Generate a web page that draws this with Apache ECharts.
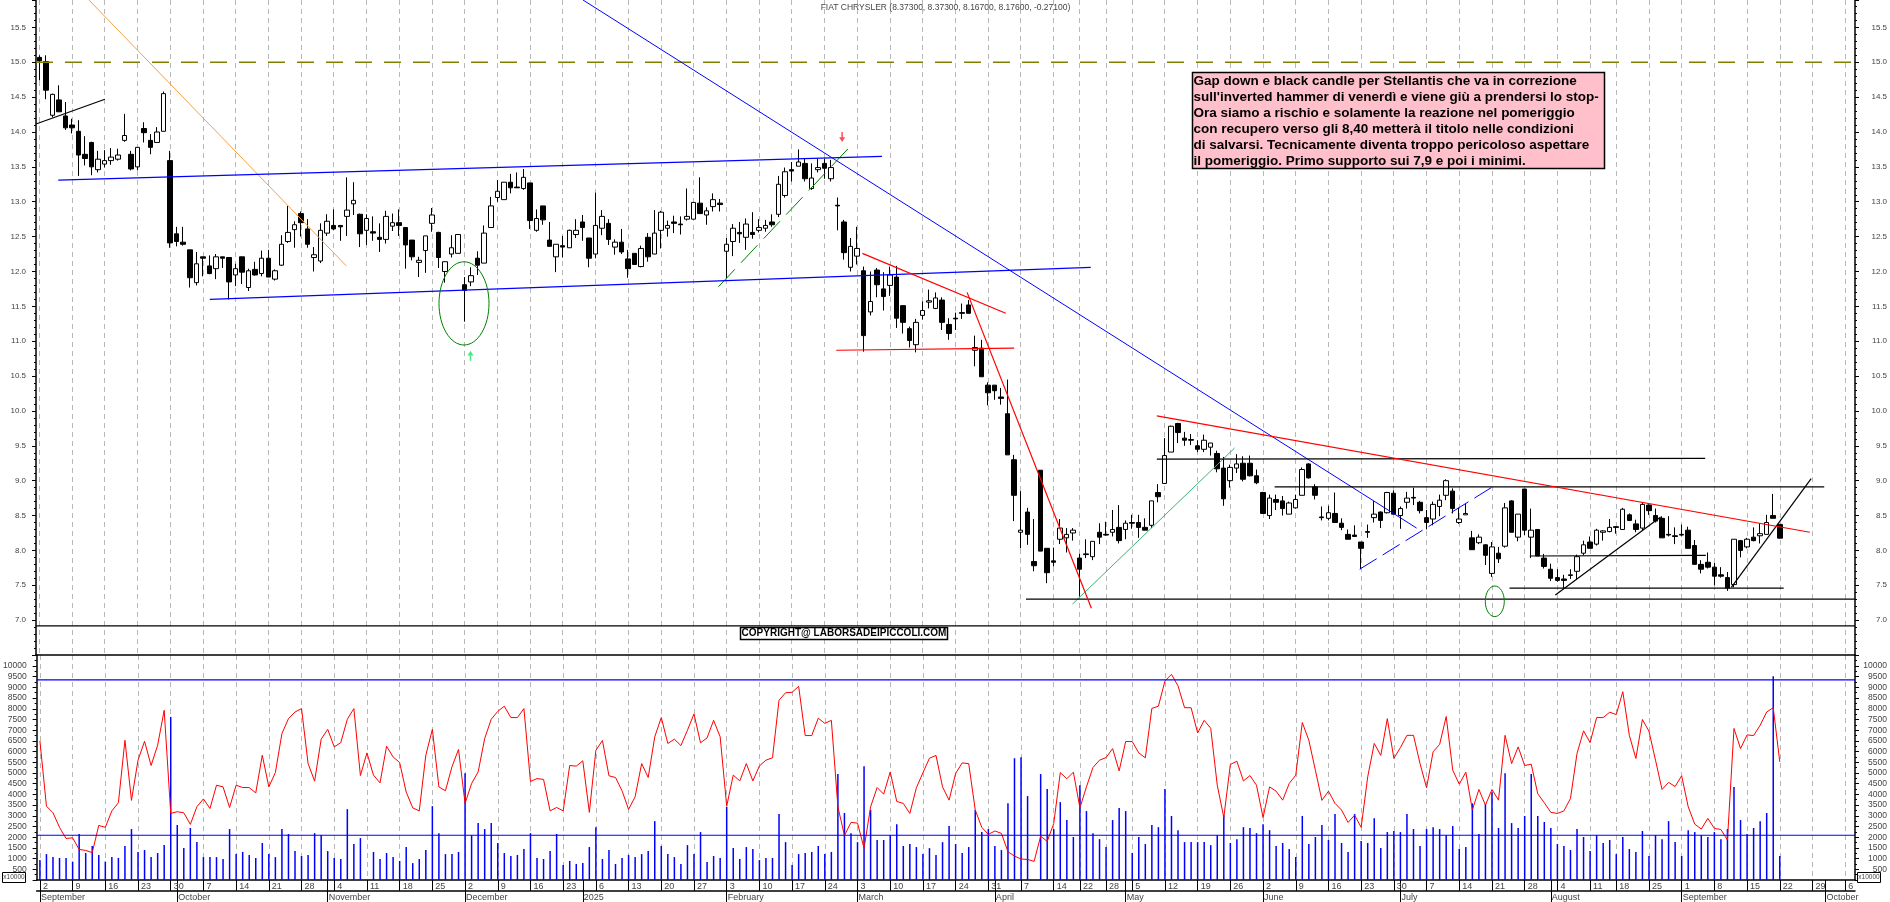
<!DOCTYPE html>
<html>
<head>
<meta charset="utf-8">
<title>FIAT CHRYSLER</title>
<script src="https://cdn.jsdelivr.net/npm/echarts@6/dist/echarts.min.js"></script>
<style>
  html, body { margin: 0; padding: 0; background: #fff; }
  #chart { width: 1890px; height: 902px; }
</style>
</head>
<body>
<div id="chart"></div>
<script>
// candles, one per trading session from 2 September 2024
const opens = [
  15.07,15.01,14.24,14.46,14.23,14.10,14.01,13.68,13.85,13.46,
  13.54,13.59,13.61,13.88,13.68,13.50,14.05,13.88,13.85,14.01,
  13.59,12.54,12.42,12.31,11.84,12.21,12.08,12.04,12.21,12.20,
  11.95,12.21,11.77,12.03,11.97,12.19,11.89,12.09,12.43,12.60,
  12.83,12.61,12.20,12.15,12.55,12.66,12.66,12.79,12.97,12.82,
  12.59,12.57,12.49,12.46,12.65,12.70,12.63,12.45,12.13,12.30,
  12.69,12.56,12.00,12.25,12.26,11.81,11.85,12.19,12.12,12.63,
  13.06,13.03,13.28,13.21,13.19,13.27,12.59,12.94,12.45,12.21,
  12.37,12.34,12.53,12.71,12.48,12.25,12.62,12.69,12.35,12.42,
  12.18,12.26,12.07,12.49,12.25,12.59,12.62,12.71,12.68,12.75,
  12.75,12.98,12.81,12.93,12.98,12.29,12.43,12.56,12.49,12.56,
  12.59,12.62,12.71,12.82,13.09,13.46,13.51,13.55,13.19,13.46,
  13.55,13.33,12.95,12.71,12.06,12.22,12.01,11.42,12.02,11.75,
  11.80,11.92,11.51,11.18,10.95,11.37,11.56,11.47,11.59,11.24,
  11.33,11.41,11.52,10.87,10.90,10.37,10.37,10.20,9.96,9.30,
  8.26,8.55,7.84,9.15,8.03,7.85,8.16,8.18,8.25,7.89,
  7.95,7.91,8.26,8.23,8.26,8.33,8.30,8.40,8.40,8.33,
  8.36,8.83,8.96,9.41,9.82,9.61,9.59,9.50,9.45,9.48,
  9.39,9.18,9.00,9.18,9.25,9.25,9.07,8.83,8.50,8.73,
  8.71,8.52,8.61,8.79,9.24,8.91,8.48,8.46,8.53,8.39,
  8.23,8.22,8.12,8.27,8.47,8.55,8.54,8.82,8.50,8.69,
  8.76,8.69,8.47,8.45,8.63,8.79,8.85,8.40,8.51,8.18,
  8.11,8.08,7.67,7.96,8.06,8.71,8.19,8.88,8.19,8.30,
  7.89,7.73,7.61,7.59,7.64,7.70,7.96,8.12,8.09,8.26,
  8.27,8.34,8.30,8.51,8.38,8.32,8.65,8.50,8.46,8.23,
  8.21,8.23,8.29,8.07,7.80,7.83,7.76,7.65,7.61,7.51,
  8.14,8.05,8.19,8.21,8.23,8.50,8.373
];
const closes = [
  15.02,14.60,14.54,14.29,14.06,14.06,13.67,13.62,13.50,13.61,
  13.59,13.64,13.67,13.95,13.47,13.78,13.99,13.78,14.00,14.55,
  12.41,12.43,12.39,11.91,12.11,12.19,11.97,12.21,12.19,11.85,
  12.04,11.99,12.01,11.95,12.19,11.92,12.01,12.39,12.56,12.67,
  12.70,12.39,12.24,12.59,12.72,12.61,12.64,12.88,13.02,12.54,
  12.76,12.55,12.46,12.79,12.70,12.66,12.38,12.21,12.16,12.51,
  12.81,12.20,12.14,12.34,12.53,11.73,11.94,12.09,12.55,12.94,
  13.15,13.28,13.20,13.20,13.35,12.73,12.76,12.74,12.36,12.39,
  12.35,12.59,12.59,12.63,12.19,12.66,12.79,12.46,12.42,12.28,
  12.04,12.10,12.33,12.21,12.55,12.85,12.66,12.69,12.67,12.79,
  12.99,12.83,12.87,13.03,12.96,12.39,12.62,12.54,12.68,12.53,
  12.63,12.66,12.67,13.25,13.43,13.44,13.57,13.33,13.34,13.49,
  13.48,13.49,12.94,12.27,12.36,12.33,11.08,11.57,11.81,11.64,
  11.95,11.33,11.27,11.01,11.27,11.44,11.58,11.62,11.27,11.11,
  11.32,11.40,11.40,10.91,10.49,10.26,10.29,10.18,9.37,8.79,
  8.29,8.23,7.78,7.99,7.68,7.83,8.32,8.23,8.29,7.73,
  7.94,8.13,8.19,8.22,8.30,8.14,8.39,8.39,8.33,8.29,
  8.71,8.77,9.36,9.78,9.69,9.58,9.58,9.45,9.58,9.54,
  9.17,8.74,9.19,9.24,9.02,9.07,8.97,8.53,8.75,8.69,
  8.60,8.68,8.73,9.16,9.04,8.79,8.47,8.54,8.40,8.33,
  8.16,8.20,8.03,8.26,8.52,8.43,8.83,8.52,8.60,8.75,
  8.75,8.57,8.40,8.66,8.72,9.00,8.60,8.45,8.53,8.01,
  8.19,7.93,8.05,7.88,8.61,8.26,8.52,8.29,8.29,7.92,
  7.77,7.60,7.57,7.57,7.65,7.91,8.08,8.03,8.29,8.28,
  8.33,8.33,8.59,8.43,8.30,8.66,8.57,8.42,8.18,8.22,
  8.20,8.22,8.03,7.80,7.73,7.76,7.63,7.63,7.46,8.16,
  8.00,8.16,8.14,8.24,8.40,8.46,8.176
];
const lows = [
  14.74,14.47,14.21,14.29,14.03,13.98,13.37,13.52,13.38,13.42,
  13.49,13.53,13.59,13.86,13.45,13.45,13.85,13.68,13.85,14.01,
  12.34,12.36,12.37,11.77,11.80,11.93,11.96,11.89,12.05,11.60,
  11.79,11.82,11.72,11.94,11.93,11.92,11.87,12.08,12.41,12.34,
  12.50,12.34,12.00,12.12,12.51,12.59,12.44,12.51,12.81,12.35,
  12.38,12.44,12.28,12.40,12.58,12.51,12.04,12.16,11.92,11.98,
  12.57,12.05,11.84,12.20,12.26,11.28,11.79,11.95,12.12,12.63,
  13.00,13.03,13.12,13.20,13.17,12.61,12.57,12.67,12.36,11.99,
  12.20,12.34,12.48,12.44,12.06,12.19,12.52,12.38,12.24,12.25,
  11.91,12.10,12.06,12.14,12.25,12.33,12.50,12.55,12.53,12.73,
  12.75,12.83,12.67,12.86,12.86,11.90,12.22,12.41,12.31,12.47,
  12.56,12.57,12.64,12.78,13.06,13.29,13.51,13.29,13.17,13.42,
  13.33,13.29,12.59,12.17,12.00,12.10,10.85,11.37,11.63,11.44,
  11.65,11.19,11.11,10.91,10.84,11.31,11.47,11.46,11.16,11.02,
  11.16,11.32,11.40,10.64,10.49,10.08,10.16,10.09,9.37,8.42,
  8.03,8.08,7.70,7.99,7.53,7.77,8.09,7.97,8.14,7.34,
  7.89,7.86,8.09,8.21,8.20,8.10,8.16,8.31,8.18,8.29,
  8.32,8.69,8.96,9.41,9.54,9.50,9.51,9.41,9.41,9.36,
  9.12,8.64,8.90,9.11,8.99,9.06,8.95,8.53,8.45,8.58,
  8.50,8.52,8.60,8.79,9.03,8.73,8.43,8.43,8.40,8.29,
  8.16,8.20,7.73,8.18,8.40,8.32,8.53,8.52,8.31,8.60,
  8.65,8.53,8.30,8.36,8.49,8.72,8.53,8.38,8.51,8.01,
  8.09,7.79,7.62,7.82,8.04,8.26,8.13,8.22,7.89,7.92,
  7.74,7.56,7.55,7.46,7.59,7.59,7.93,8.03,8.07,8.14,
  8.26,8.24,8.30,8.42,8.26,8.29,8.51,8.40,8.18,8.20,
  8.09,8.20,8.03,7.80,7.67,7.74,7.50,7.61,7.42,7.47,
  7.90,8.03,8.13,8.10,8.23,8.46,8.167
];
const highs = [
  15.10,15.10,14.55,14.67,14.43,14.19,14.17,13.94,13.86,13.73,
  13.74,13.77,13.76,14.26,13.73,13.78,14.14,13.97,14.07,14.58,
  13.73,12.64,12.64,12.31,12.28,12.21,12.23,12.25,12.21,12.20,
  12.11,12.21,12.04,12.14,12.30,12.31,12.03,12.52,12.94,12.72,
  12.86,12.75,12.35,12.69,12.82,12.89,12.66,13.35,13.28,12.83,
  12.82,12.79,12.69,12.87,12.83,12.89,12.63,12.45,12.21,12.51,
  12.91,12.57,12.14,12.52,12.53,11.92,12.06,12.29,12.66,13.07,
  13.31,13.28,13.40,13.42,13.47,13.27,12.89,12.94,12.71,12.39,
  12.51,12.60,12.75,12.81,12.48,13.13,12.88,12.75,12.46,12.61,
  12.31,12.26,12.37,12.55,12.88,12.87,12.73,12.80,12.79,13.19,
  12.99,13.35,12.92,13.12,13.04,12.48,12.68,12.71,12.76,12.85,
  12.75,12.74,12.82,13.37,13.49,13.57,13.75,13.62,13.55,13.62,
  13.62,13.60,13.06,12.74,12.48,12.64,12.07,12.00,12.05,11.99,
  12.07,12.08,11.51,11.21,11.32,11.57,11.74,11.70,11.63,11.33,
  11.41,11.54,11.59,11.08,11.02,10.41,10.37,10.33,10.45,9.37,
  8.85,8.61,8.45,9.15,8.03,8.04,8.45,8.32,8.32,7.95,
  8.16,8.13,8.39,8.41,8.58,8.65,8.43,8.51,8.51,8.46,
  8.71,8.95,9.61,9.79,9.83,9.70,9.67,9.58,9.66,9.54,
  9.43,9.34,9.23,9.38,9.35,9.36,9.16,8.84,8.80,8.80,
  8.78,8.70,8.80,9.19,9.25,8.95,8.63,8.64,8.83,8.46,
  8.30,8.36,8.12,8.37,8.71,8.56,8.84,8.86,8.63,8.84,
  8.90,8.71,8.58,8.70,8.80,9.02,8.89,8.61,8.67,8.28,
  8.23,8.09,8.12,8.05,8.68,8.72,8.52,8.88,8.60,8.30,
  7.95,7.81,7.73,7.65,7.73,7.94,8.14,8.20,8.31,8.29,
  8.45,8.35,8.61,8.53,8.44,8.69,8.66,8.60,8.49,8.49,
  8.33,8.37,8.34,8.15,7.86,7.97,7.82,7.76,7.69,8.16,
  8.15,8.18,8.33,8.39,8.51,8.81,8.373
];

// lower panel: blue bars and red line, axis in x10000
const volumes = [
  930,1210,1070,1030,1030,860,2150,1260,1590,1170,
  860,1070,1030,1590,2380,1310,1400,1070,1260,1630,
  7620,2570,1490,2430,1770,1070,1070,1070,980,2380,
  1210,1310,1170,1030,1730,1210,1070,2380,2150,1350,
  1120,1170,2190,2100,1350,1030,980,3310,1680,1960,
  0,1310,980,1260,1070,890,1540,790,980,1400,
  3450,2190,1210,1210,1310,4990,2100,2660,2380,2660,
  1730,1260,1120,1170,1450,2190,1030,980,1350,2150,
  700,890,750,790,1540,2470,980,1400,750,1030,
  1170,1070,1210,1350,2750,1590,1210,1070,750,1630,
  1210,2240,840,1120,1030,3420,1490,980,1540,1450,
  930,1030,1030,3080,1770,700,1210,1260,1310,1590,
  1210,1310,4950,3130,2190,1770,5320,3270,1870,1870,
  2100,2610,1590,1680,1540,1210,1490,1170,1770,2520,
  1680,1260,1540,3270,2240,2380,1590,1400,3590,5690,
  5740,3920,0,4950,4250,2380,3640,2800,2010,4430,
  3220,2190,1910,1540,2800,3360,3220,1260,2010,1680,
  2570,2470,4250,2990,2330,1770,1770,1770,1770,1630,
  2100,3030,1730,1910,2470,2430,2190,2610,2330,1590,
  1730,1450,1070,2990,1680,2010,2570,1870,3080,1730,
  1310,3080,1820,1730,2890,1490,2240,2290,2240,3080,
  2380,1590,2380,2470,2380,2100,2520,1450,1540,3580,
  2150,3550,4100,2430,4990,2660,2430,2990,4950,2990,
  2710,2430,1680,1590,1400,2380,2010,1350,2100,1730,
  1870,1210,2010,1450,1310,2290,1120,2100,1910,2750,
  1770,1120,2330,2240,2100,2010,2240,1910,2380,4340,
  2800,2150,2430,2750,3130,9520,1120
];
const redLine = [
  6500,3450,3140,2460,1940,1970,1430,1380,1280,2550,
  2460,3230,3610,6530,3720,5600,6480,5350,6300,7930,
  3110,3190,3140,2600,3420,3790,3340,4430,4350,3390,
  4430,4320,4320,4070,5830,4350,5020,6840,7540,7850,
  8010,5440,4620,6580,7040,6220,6420,7510,8010,4880,
  5940,4900,4540,6250,5750,5490,4110,3370,3230,5830,
  7040,4350,4170,5290,6100,3580,4510,5050,6610,7510,
  7880,8120,7590,7590,8010,4600,4740,4700,3230,3390,
  3230,5350,5320,5570,3160,6060,6520,4870,4790,4170,
  3300,3890,5440,4790,6690,7590,6380,6580,6280,7000,
  7760,6410,6640,7460,6690,3450,4900,4630,5440,4630,
  5330,5600,5710,8400,8750,8770,9050,6750,6750,7560,
  7320,7460,3420,2080,2690,2660,1480,3420,4320,4010,
  5050,3670,3580,3110,4310,5010,5690,5820,4350,3730,
  4980,5470,5440,3270,2460,2130,2290,2180,1320,1120,
  980,960,870,2050,1800,2640,5020,4730,5040,3370,
  4350,5260,5600,5720,6140,5100,6470,6470,5940,5710,
  8020,8120,9300,9610,9070,8050,8050,6870,7460,7090,
  4430,2920,5400,5550,4630,4880,4430,2920,4350,4150,
  3730,4510,4900,7360,6530,5130,3720,4150,3580,3270,
  2690,3030,2460,4820,6380,5820,7540,5680,6190,6760,
  6760,5440,4310,5990,6340,7640,5130,4480,5040,3270,
  4230,3500,4230,3730,6760,5440,6220,5350,5410,4030,
  3610,3160,3110,3230,3810,5910,6970,6420,7590,7590,
  7840,7730,8800,6760,5680,7500,6950,5600,4230,4560,
  4370,4870,3420,2610,2380,2880,2410,2360,1870,7080,
  6140,6780,6750,7230,7850,8050,5520
];

// time axis: slot index of each weekly mark and of each month start
const slotCount = 278;
const weekSlots = [
  0,5,10,15,20,25,30,35,40,45,50,55,60,65,70,75,80,85,90,95,100,105,110,115,120,
  125,130,135,140,145,150,155,159,163,167,172,177,182,187,192,197,202,207,212,
  217,222,227,232,237,241,246,251,256,261,266,271,276
];
const weekLabels = [
  '2','9','16','23','30','7','14','21','28','4','11','18','25','2','9','16','23','6','13','20','27',
  '3','10','17','24','3','10','17','24','31','7','14','22','28','5','12','19','26','2','9','16','23','30',
  '7','14','21','28','4','11','18','25','1','8','15','22','29','6'
];
const monthSlots = [0,21,44,65,83,105,125,146,166,187,208,231,251,273];
const monthLabels = ['September','October','November','December','2025','February','March','April','May','June','July','August','September','October'];

// tick labels of the two panels
const priceMin = 6.5, priceMax = 15.893, priceStep = 0.5;
const volumeMax = 10514, volumeStep = 500;

// drawn-by-hand lines, [slot, price]
const olivePrice = 15.0;
const orangeLine = [[7.59, 15.893], [46.93, 12.08]];
const blackLines = [
  [[-0.5, 14.115], [10.03, 14.47]],
  [[170.8, 9.31], [254.6, 9.32]],
  [[188.8, 8.91], [272.8, 8.91]],
  [[150.8, 7.30], [277.5, 7.30]],
  [[224.7, 7.46], [266.6, 7.46]],
  [[227.8, 7.92], [254.7, 7.93]],
  [[231.7, 7.36], [247.8, 8.48]],
  [[258.6, 7.47], [270.8, 9.03]],
  [[-0.5, 6.918], [277.5, 6.918]]
];
const blueChannel = [
  [[2.9, 13.31], [128.8, 13.65]],
  [[26.06, 11.60], [160.7, 12.06]]
];
const blueTrend = [[83.1, 15.893], [210.5, 8.32]];
const blueDashed = [[201.8, 7.73], [222.6, 8.94]];
const redLines = [
  [[125.8, 12.26], [147.7, 11.40]],
  [[121.8, 10.87], [149, 10.90]],
  [[141.8, 11.70], [160.8, 7.17]],
  [[170.8, 9.93], [270.6, 8.26]]
];
const greenDashed = [[103.8, 11.78], [123.6, 13.76]];
const seaGreenLine = [[157.9, 7.23], [182.7, 9.47]];
const volumeLevels = [9350, 2090];
const downArrow = [122.7, 13.93];
const upArrow = [65.9, 10.79];

const noteText = [
  'Gap down e black candle per Stellantis che va in correzione',
  "sull'inverted hammer di venerdì e viene giù a prendersi lo stop-",
  'Ora siamo a rischio e solamente la reazione nel pomeriggio',
  'con recupero verso gli 8,40 metterà il titolo nelle condizioni',
  'di salvarsi. Tecnicamente diventa troppo pericoloso aspettare',
  'il pomeriggio. Primo supporto sui 7,9 e poi i minimi.'
].join('\n');

const FONT = '"Liberation Sans", Arial, sans-serif';
const LABEL = '#444';

const dayCategories = [];
for (let i = 0; i < slotCount; i++) {
  const w = weekSlots.indexOf(i);
  dayCategories.push(w >= 0 ? weekLabels[w] : '');
}
const monthCategories = [];
for (let i = 0; i < slotCount; i++) {
  const m = monthSlots.indexOf(i);
  monthCategories.push(m >= 0 ? monthLabels[m] : '');
}
const isWeek = (i) => weekSlots.indexOf(i) >= 0;
const isMonth = (i) => monthSlots.indexOf(i) >= 0;

const candleData = opens.map((o, i) => [o, closes[i], lows[i], highs[i]]);

// one straight annotation line
function trendSeries(points, color, width, dash, xAxisIndex, yAxisIndex) {
  return {
    type: 'line',
    xAxisIndex: xAxisIndex === undefined ? 3 : xAxisIndex,
    yAxisIndex: yAxisIndex === undefined ? 0 : yAxisIndex,
    data: points,
    symbol: 'none',
    silent: true,
    clip: true,
    animation: false,
    z: 5,
    lineStyle: { color: color, width: width, type: dash || 'solid' }
  };
}

function priceAxis(position, margin) {
  return {
    type: 'value',
    gridIndex: 0,
    position: position,
    min: priceMin,
    max: priceMax,
    interval: priceStep,
    axisLine: { show: true, onZero: false, lineStyle: { color: '#000', width: 1.5 } },
    axisTick: { show: true, length: 4, lineStyle: { color: '#000', width: 1 } },
    minorTick: { show: true, splitNumber: 5, length: 2, lineStyle: { color: '#000', width: 1 } },
    splitLine: { show: false },
    axisLabel: {
      color: LABEL, fontFamily: FONT, fontSize: 8, margin: margin, align: 'right',
      showMaxLabel: false,
      formatter: (v) => (v < 7 ? '' : v.toFixed(1))
    }
  };
}

function volumeAxis(position, margin) {
  return {
    type: 'value',
    gridIndex: 1,
    position: position,
    min: 0,
    max: volumeMax,
    interval: volumeStep,
    axisLine: { show: true, onZero: false, lineStyle: { color: '#000', width: 1.5 } },
    axisTick: { show: true, length: 4, lineStyle: { color: '#000', width: 1 } },
    minorTick: { show: true, splitNumber: 2, length: 2, lineStyle: { color: '#000', width: 1 } },
    splitLine: { show: false },
    axisLabel: {
      color: LABEL, fontFamily: FONT, fontSize: 8.5, margin: margin, align: 'right',
      showMaxLabel: false,
      formatter: (v) => (v === 0 || v > 10000 ? '' : String(v))
    }
  };
}

const weekGrid = {
  show: true,
  alignWithLabel: true,
  interval: (i) => isWeek(i),
  lineStyle: { color: '#b8b8b8', width: 1, type: [5, 4] }
};

const chart = echarts.init(document.getElementById('chart'));

const series = [
  {
    type: 'candlestick',
    xAxisIndex: 0,
    yAxisIndex: 0,
    data: candleData,
    barWidth: 5,
    animation: false,
    z: 3,
    itemStyle: {
      color: '#fff', color0: '#000',
      borderColor: '#000', borderColor0: '#000', borderColorDoji: '#000',
      borderWidth: 1
    }
  },
  trendSeries([[-0.5, olivePrice], [277.5, olivePrice]], '#808000', 1.5, [17, 12]),
  trendSeries(orangeLine, '#f5a040', 1),
  trendSeries(blueTrend, '#0000ff', 1),
  trendSeries(blueDashed, '#0000ff', 1, [20, 7]),
  trendSeries(greenDashed, '#008000', 1, [24, 9]),
  trendSeries(seaGreenLine, '#3cb371', 1),
  {
    type: 'bar',
    xAxisIndex: 1,
    yAxisIndex: 2,
    data: volumes,
    barWidth: 1.5,
    animation: false,
    itemStyle: { color: '#0000ff' }
  },
  {
    type: 'line',
    xAxisIndex: 1,
    yAxisIndex: 2,
    data: redLine,
    symbol: 'none',
    animation: false,
    z: 4,
    lineStyle: { color: '#ff0000', width: 1 }
  },
  {
    type: 'scatter',
    xAxisIndex: 3,
    yAxisIndex: 0,
    data: [downArrow],
    symbol: 'path://M3,0 L3,6 L0,6 L4,11 L8,6 L5,6 L5,0 Z',
    symbolSize: [6, 10],
    animation: false,
    itemStyle: { color: '#ff2020' }
  },
  {
    type: 'scatter',
    xAxisIndex: 3,
    yAxisIndex: 0,
    data: [upArrow],
    symbol: 'path://M3,0 L3,6 L0,6 L4,11 L8,6 L5,6 L5,0 Z',
    symbolRotate: 180,
    symbolSize: [6, 10],
    animation: false,
    itemStyle: { color: '#20e060' }
  }
];
blackLines.forEach((l) => series.push(trendSeries(l, '#000', 1.2)));
blueChannel.forEach((l) => series.push(trendSeries(l, '#0000ff', 1.2)));
redLines.forEach((l) => series.push(trendSeries(l, '#ff0000', 1.2)));
volumeLevels.forEach((v) => series.push(trendSeries([[-0.5, v], [277.5, v]], '#0000ff', 1.2, 'solid', 4, 2)));

chart.setOption({
  animation: false,
  backgroundColor: '#fff',
  grid: [
    { left: 36, width: 1820, top: 0, height: 655 },
    { left: 36, width: 1820, top: 655, height: 225 }
  ],
  xAxis: [
    {
      type: 'category', gridIndex: 0, data: dayCategories, boundaryGap: true,
      axisLine: { show: true, onZero: false, lineStyle: { color: '#000', width: 1.5 } },
      axisTick: { show: false },
      axisLabel: { show: false },
      splitLine: weekGrid
    },
    {
      type: 'category', gridIndex: 1, data: dayCategories, boundaryGap: true, position: 'bottom',
      axisLine: { show: true, onZero: false, lineStyle: { color: '#000', width: 1.5 } },
      axisTick: { show: true, alignWithLabel: true, length: 11, interval: (i) => isWeek(i) || isMonth(i), lineStyle: { color: '#000', width: 1 } },
      axisLabel: {
        color: LABEL, fontFamily: FONT, fontSize: 9, margin: 2, align: 'left', padding: [0, 0, 0, 3],
        hideOverlap: false,
        interval: (i) => isWeek(i)
      },
      splitLine: weekGrid
    },
    {
      type: 'category', gridIndex: 1, data: monthCategories, boundaryGap: true, position: 'bottom', offset: 11,
      axisLine: { show: true, onZero: false, lineStyle: { color: '#000', width: 1.5 } },
      axisTick: { show: true, alignWithLabel: true, length: 11, interval: (i) => isMonth(i), lineStyle: { color: '#000', width: 1 } },
      axisLabel: {
        color: LABEL, fontFamily: FONT, fontSize: 9, margin: 2, align: 'left', padding: [0, 0, 0, 1],
        hideOverlap: false,
        interval: (i) => isMonth(i)
      },
      splitLine: { show: false }
    },
    { type: 'value', gridIndex: 0, min: -0.5, max: 277.5, show: false },
    { type: 'value', gridIndex: 1, min: -0.5, max: 277.5, show: false }
  ],
  yAxis: [
    priceAxis('left', 10),
    priceAxis('right', 32),
    volumeAxis('left', 10),
    volumeAxis('right', 32)
  ],
  series: series,
  graphic: [
    { type: 'ellipse', silent: true, z: 20, shape: { cx: 464, cy: 303.4, rx: 25, ry: 41.6 }, style: { fill: 'none', stroke: '#008000', lineWidth: 1 } },
    { type: 'ellipse', silent: true, z: 20, shape: { cx: 1494.8, cy: 601.3, rx: 9.5, ry: 15.3 }, style: { fill: 'none', stroke: '#008000', lineWidth: 1 } },
    { type: 'rect', silent: true, z: 20, shape: { x: 1192.5, y: 72.5, width: 412, height: 96 }, style: { fill: '#ffc0cb', stroke: '#000', lineWidth: 1.5 } },
    { type: 'text', silent: true, z: 21, x: 1193.5, y: 73, style: { text: noteText, fill: '#000', font: 'bold 13.5px ' + FONT, lineHeight: 16 } },
    { type: 'rect', silent: true, z: 20, shape: { x: 740.5, y: 627.5, width: 207, height: 12 }, style: { fill: '#fff', stroke: '#000', lineWidth: 1.5 } },
    { type: 'text', silent: true, z: 21, x: 844, y: 633.5, style: { text: 'COPYRIGHT@ LABORSADEIPICCOLI.COM', fill: '#000', font: 'bold 10px ' + FONT, align: 'center', verticalAlign: 'middle' } },
    { type: 'text', silent: true, z: 21, x: 945.5, y: 8, style: { text: 'FIAT CHRYSLER (8.37300, 8.37300, 8.16700, 8.17600, -0.27100)', fill: LABEL, font: '8.5px ' + FONT, align: 'center', verticalAlign: 'middle' } },
    { type: 'rect', silent: true, z: 20, shape: { x: 2.5, y: 872.5, width: 23, height: 10 }, style: { fill: '#fff', stroke: '#000', lineWidth: 1 } },
    { type: 'text', silent: true, z: 21, x: 14, y: 877, style: { text: 'x10000', fill: LABEL, font: '6.5px ' + FONT, align: 'center', verticalAlign: 'middle' } },
    { type: 'rect', silent: true, z: 20, shape: { x: 1857.5, y: 872.5, width: 23, height: 10 }, style: { fill: '#fff', stroke: '#000', lineWidth: 1 } },
    { type: 'text', silent: true, z: 21, x: 1869, y: 877, style: { text: 'x10000', fill: LABEL, font: '6.5px ' + FONT, align: 'center', verticalAlign: 'middle' } }
  ]
});

window.addEventListener('resize', () => chart.resize());
</script>
</body>
</html>
